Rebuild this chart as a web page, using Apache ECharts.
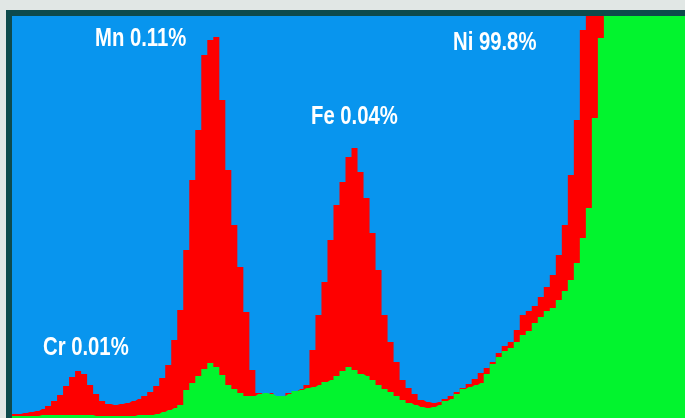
<!DOCTYPE html>
<html>
<head>
<meta charset="utf-8">
<script src="https://cdn.jsdelivr.net/npm/echarts@6/dist/echarts.min.js"></script>
<style>
html,body{margin:0;padding:0;background:#e1e7e5;}
#chart{width:685px;height:418px;}
</style>
</head>
<body>
<div id="chart"></div>
<script>
// Spectrum counts per channel (arbitrary units)
const redCounts = [
  4,4,5,6,7,9,12,17,23,32,41,47,44,33,24,17,14,13,14,15,17,19,22,26,
  32,40,53,78,108,168,238,288,363,378,381,318,248,193,151,106,48,25,23,25,22,22,25,27,29,33,
  68,103,136,178,213,236,261,270,246,220,185,148,103,76,56,38,30,24,18,16,15,16,19,22,26,30,34,39,45,
  50,56,65,72,76,88,103,107,112,121,131,143,163,193,243,298,388,402,402,402,
  402,402,402,402,402,402,402,402,402,402,402,402,402,402
];
const greenCounts = [
  2,2,2,2,2,3,3,3,3,3,3,3,3,3,2,2,2,2,2,2,2,3,3,3,
  4,6,8,10,13,28,35,42,49,55,51,43,33,29,25,22,22,24,25,24,22,22,24,27,28,30,
  31,33,36,38,42,47,51,48,44,42,38,33,29,26,22,18,15,13,11,10,11,13,17,19,24,29,31,33,35,
  44,54,61,67,70,76,83,87,95,101,107,110,118,127,138,155,180,210,300,380,
  402,402,402,402,402,402,402,402,402,402,402,402,402,402
];
const channels = redCounts.map((_, i) => String(i));
const yMax = 402;
const peakLabels = [
  { text: 'Mn 0.11%', x: 95, y: 39 },
  { text: 'Fe 0.04%', x: 311, y: 117 },
  { text: 'Ni 99.8%', x: 453, y: 43 },
  { text: 'Cr 0.01%', x: 43, y: 348 }
];

const chart = echarts.init(document.getElementById('chart'));
chart.setOption({
  backgroundColor: '#e1e7e5',
  animation: false,
  grid: { left: 12, top: 16, right: 0, bottom: 0, show: true, backgroundColor: '#0895ee', borderWidth: 0 },
  xAxis: { type: 'category', data: channels, boundaryGap: false, show: false },
  yAxis: { type: 'value', min: 0, max: yMax, show: false },
  series: [
    { type: 'line', data: redCounts, step: 'middle', symbol: 'none', clip: true,
      lineStyle: { width: 0 }, areaStyle: { color: '#fe0000', opacity: 1 }, z: 2 },
    { type: 'line', data: greenCounts, step: 'middle', symbol: 'none', clip: true,
      lineStyle: { width: 0 }, areaStyle: { color: '#02f42e', opacity: 1 }, z: 3 }
  ],
  graphic: [
    { type: 'rect', shape: { x: 9, y: 13, width: 700, height: 440 }, z: 100,
      style: { fill: 'none', stroke: '#0d4a4c', lineWidth: 6 } }
  ].concat(peakLabels.map(l => ({
    type: 'text', x: l.x, y: l.y, z: 101, scaleX: 0.78,
    style: { text: l.text, fill: '#ffffff', font: 'bold 26px "Liberation Sans", Arial, sans-serif', verticalAlign: 'middle', align: 'left' }
  })))
});
</script>
</body>
</html>
